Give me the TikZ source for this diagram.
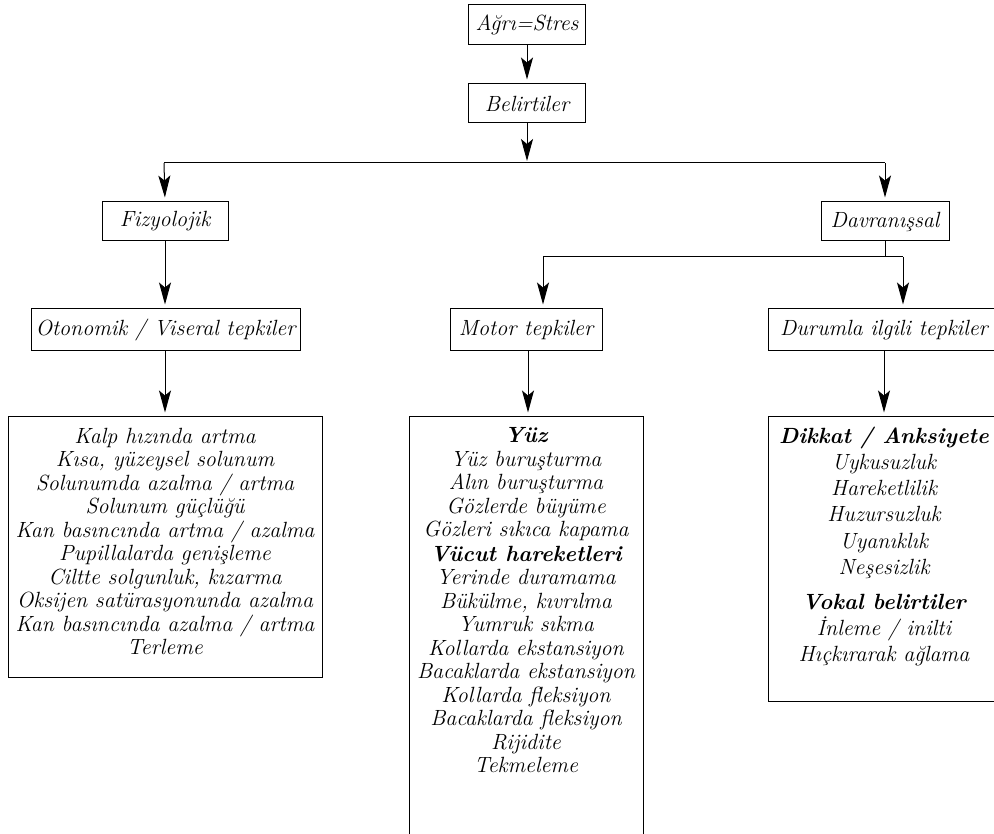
\documentclass[tikz,border=0pt]{standalone}
\usepackage{fontspec}
\usetikzlibrary{arrows.meta,calc}
\begin{document}
\begin{tikzpicture}[x=1pt,y=-1pt,
  txt/.style={font=\itshape\fontsize{22}{23.5}\selectfont},
  box/.style={draw, line width=1pt, inner sep=0pt, txt},
  lstbox/.style={draw, line width=1pt, inner sep=0pt},
  lst/.style={inner sep=0pt, align=center, anchor=north, txt},
  arr/.style={line width=1pt, -{Stealth[length=22pt,width=12pt,inset=5pt]}, shorten >=4pt},
  ln/.style={line width=1pt}]
\clip (0,0) rectangle (994,834);
% top boxes
\node[box, minimum width=117pt, minimum height=40pt] (A) at (527,25) {Ağrı=Stres};
\node[box, minimum width=117pt, minimum height=39pt] (B) at (527,103.5) {Belirtiler};
\node[box, minimum width=126pt, minimum height=39pt] (F) at (165,221.5) {Fizyolojik};
\node[box, minimum width=128pt, minimum height=39pt] (D) at (885,221.5) {Davranışsal};
\node[box, minimum width=269pt, minimum height=42pt] (O) at (165.5,330) {Otonomik / Viseral tepkiler};
\node[box, minimum width=152pt, minimum height=42pt] (M) at (526,330) {Motor tepkiler};
\node[box, minimum width=232pt, minimum height=42pt] (Du) at (884,330) {Durumla ilgili tepkiler};
% list boxes
\node[lstbox, minimum width=314pt, minimum height=260pt] (L1) at (165,547) {};
\node[lstbox, minimum width=234pt, minimum height=427pt] (L2) at (526,630.5) {};
\node[lstbox, minimum width=232pt, minimum height=284pt] (L3) at (884,559) {};
\node[lst] (T1) at ($(L1.north)+(0,11.5)$) {Kalp hızında artma\\ Kısa, yüzeysel solunum\\ Solunumda azalma / artma\\ Solunum güçlüğü\\ Kan basıncında artma / azalma\\ Pupillalarda genişleme\\ Ciltte solgunluk, kızarma\\ Oksijen satürasyonunda azalma\\ Kan basıncında azalma / artma\\ Terleme};
\node[lst] (T2) at ($(L2.north)+(0,11)$) {{\bfseries Yüz}\\ Yüz buruşturma\\ Alın buruşturma\\ Gözlerde büyüme\\ Gözleri sıkıca kapama\\[1pt] {\bfseries Vücut hareketleri}\\ Yerinde duramama\\ Bükülme, kıvrılma\\ Yumruk sıkma\\ Kollarda ekstansiyon\\ Bacaklarda ekstansiyon\\ Kollarda fleksiyon\\ Bacaklarda fleksiyon\\ Rijidite\\ Tekmeleme};
\node[lst, font=\itshape\fontsize{22}{26.2}\selectfont] (T3) at ($(L3.north)+(0,10)$) {{\bfseries Dikkat / Anksiyete}\\ Uykusuzluk\\ Hareketlilik\\ Huzursuzluk\\ Uyanıklık\\ Neşesizlik\\[9pt] {\bfseries Vokal belirtiler}\\ İnleme / inilti\\ Hıçkırarak ağlama};
% junctions
\coordinate (jL) at (164,163);
\coordinate (jR) at (885,163);
\coordinate (dj) at (885,257);
\coordinate (mL) at (543,257);
\coordinate (mR) at (903,257);
% connectors
\draw[arr] (A.south) -- (B.north);
\draw[arr, shorten >=2pt] (B.south) -- (B.south |- jL);
\draw[ln] (jL) -- (jR);
\draw[arr] (jL) -- (F.north);
\draw[arr] (jR) -- (D.north);
\draw[arr] (F.south) -- (O.north -| F.south);
\draw[arr] (O.south -| F.south) -- (L1.north -| F.south);
\draw[ln] (D.south) -- (dj);
\draw[ln] (mL) -- (mR);
\draw[arr] (mL) -- (mL |- M.north);
\draw[arr] (mR) -- (mR |- Du.north);
\draw[arr] (M.south -| 528,0) -- (L2.north -| 528,0);
\draw[arr] (Du.south) -- (L3.north);
\end{tikzpicture}
\end{document}
